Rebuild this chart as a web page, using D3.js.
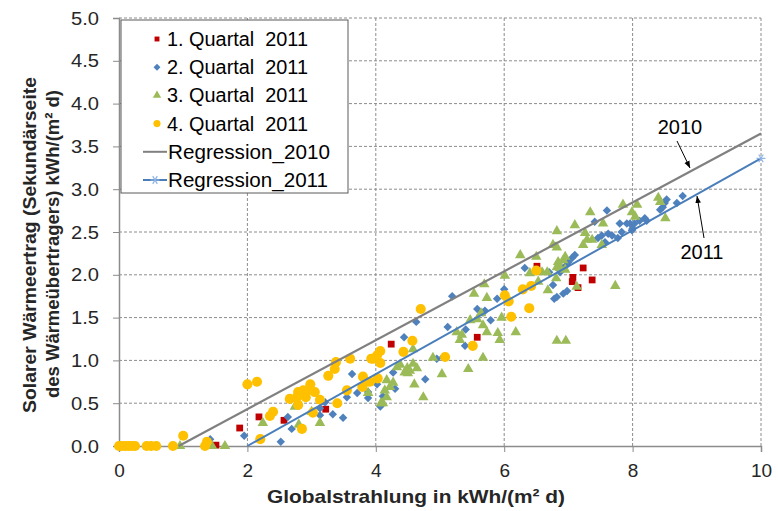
<!DOCTYPE html>
<html><head><meta charset="utf-8">
<script src="https://cdn.jsdelivr.net/npm/d3@7"></script>
<style>html,body{margin:0;padding:0;background:#fff;}svg{display:block;}</style>
</head><body>
<svg id="chart" width="778" height="511"></svg>
<script>
const q1 = [[1.88,0.21],[1.51,0.01],[2.18,0.34],[2.57,0.30],[3.22,0.43],[4.24,1.19],[5.58,1.27],[6.51,2.10],[7.23,2.08],[7.07,1.97],[7.06,1.92],[7.37,1.94],[7.15,1.85]];
const q2 = [[1.42,0.08],[1.95,0.12],[2.52,0.05],[2.63,0.34],[2.69,0.20],[3.13,0.36],[3.13,0.44],[3.21,0.51],[3.33,0.37],[3.49,0.33],[3.55,0.57],[3.63,0.84],[3.71,0.62],[3.88,0.56],[3.88,0.63],[4.02,0.72],[4.07,0.46],[4.11,0.58],[4.27,0.86],[4.30,0.67],[4.44,1.27],[4.63,1.45],[4.77,0.78],[4.95,1.02],[5.05,1.04],[5.12,1.39],[5.19,1.75],[5.39,1.17],[5.40,1.36],[5.58,1.60],[5.67,1.56],[5.70,1.58],[5.79,1.47],[5.89,1.72],[6.00,1.83],[6.32,2.08],[6.70,2.03],[6.76,1.88],[6.78,1.72],[6.79,2.34],[6.82,1.74],[6.87,2.03],[6.92,2.08],[6.92,1.78],[6.98,2.12],[6.98,1.81],[7.00,2.15],[7.06,2.20],[7.10,2.23],[7.41,2.62],[7.46,2.43],[7.52,2.46],[7.57,2.38],[7.60,2.75],[7.62,2.48],[7.68,2.46],[7.77,2.43],[7.80,2.60],[7.83,2.50],[7.91,2.60],[7.96,2.60],[7.99,2.52],[8.00,2.54],[8.03,2.60],[8.11,2.63],[8.19,2.66],[8.22,2.63],[8.43,2.76],[8.47,2.79],[8.50,2.84],[8.53,2.88],[8.69,2.84],[8.78,2.92]];
const q3 = [[0.95,0],[1.45,0],[1.65,0],[2.24,0.27],[2.74,0.46],[2.80,0.25],[3.00,0.40],[3.13,0.27],[3.88,0.62],[4.08,0.50],[4.11,0.50],[4.14,0.65],[4.17,0.57],[4.17,0.77],[4.22,0.69],[4.27,0.74],[4.33,0.92],[4.38,0.95],[4.45,0.86],[4.49,0.91],[4.50,0.85],[4.53,0.88],[4.58,0.96],[4.58,1.13],[4.60,0.72],[4.64,0.91],[4.74,0.57],[4.89,1.03],[5.03,0.84],[5.26,1.33],[5.31,1.24],[5.34,1.30],[5.44,0.90],[5.47,1.47],[5.53,1.78],[5.58,1.48],[5.64,1.55],[5.67,1.41],[5.67,1.03],[5.69,1.89],[5.73,1.73],[5.73,1.33],[5.90,1.32],[5.93,1.24],[5.96,1.50],[6.01,1.99],[6.18,1.33],[6.25,2.23],[6.40,2.02],[6.50,2.21],[6.53,1.92],[6.59,2.03],[6.67,2.03],[6.68,1.82],[6.76,2.35],[6.81,1.96],[6.82,2.51],[6.82,2.32],[6.84,2.15],[6.82,2.09],[6.82,1.23],[6.87,2.08],[6.92,2.17],[6.95,2.21],[6.95,2.06],[6.96,1.23],[7.10,2.58],[7.13,1.86],[7.23,2.35],[7.26,2.49],[7.29,2.41],[7.34,2.73],[7.37,2.41],[7.52,2.35],[7.54,2.60],[7.73,1.87],[7.85,2.82],[7.99,2.73],[8.04,2.68],[8.07,2.82],[8.40,2.90],[8.43,2.85],[8.51,2.66]];
const q4 = [[0,0],[0.05,0],[0.10,0],[0.15,0],[0.20,0],[0.25,0],[0.43,0],[0.50,0],[0.58,0],[0.84,0],[1.00,0.12],[1.34,0],[1.37,0.05],[2.00,0.72],[2.15,0.75],[2.20,0.08],[2.35,0.35],[2.40,0.40],[2.66,0.55],[2.77,0.57],[2.79,0.48],[2.79,0.63],[2.85,0.20],[2.87,0.65],[2.91,0.57],[2.94,0.65],[2.98,0.72],[3.02,0.39],[3.05,0.63],[3.13,0.54],[3.26,0.82],[3.36,0.90],[3.38,0.98],[3.40,0.50],[3.55,0.65],[3.60,1.02],[3.79,0.69],[3.80,0.81],[3.86,0.75],[3.91,0.75],[3.93,1.02],[3.96,1.02],[4.02,1.06],[4.03,0.79],[4.07,1.11],[4.07,0.97],[4.43,1.10],[4.57,1.23],[4.70,1.60],[5.08,1.04],[5.51,1.17],[6.01,1.76],[6.07,1.69],[6.11,1.51],[6.29,1.83],[6.39,1.61],[6.42,1.87],[6.50,2.05]];
const reg2010 = [[0.93,0],[10,3.65]];
const reg2011 = [[2.0,0],[10,3.36]];
const xTicks = [0,2,4,6,8,10];
const yTicks = [0,0.5,1.0,1.5,2.0,2.5,3.0,3.5,4.0,4.5,5.0];
const legendLabels = ["1. Quartal  2011","2. Quartal  2011","3. Quartal  2011","4. Quartal  2011","Regression_2010","Regression_2011"];
const xTitle = "Globalstrahlung in kWh/(m² d)";
const yTitle1 = "Solarer Wärmeertrag (Sekundärseite";
const yTitle2 = "des Wärmeübertragers) kWh/(m² d)";

const svg = d3.select("#chart");
const L = 119, R = 761, T = 18, B = 446;
const x = d3.scaleLinear().domain([0,10]).range([L,R]);
const y = d3.scaleLinear().domain([0,5]).range([B,T]);
const font = "'Liberation Sans', Arial, sans-serif";
const txt = "#262626";

// grid
const grid = svg.append("g");
grid.selectAll("line.h").data(yTicks.filter(d=>d>0)).join("line")
  .attr("x1",L).attr("x2",R).attr("y1",d=>y(d)).attr("y2",d=>y(d))
  .attr("stroke","#8c8c8c").attr("stroke-width",1).attr("stroke-dasharray","3,2");
grid.selectAll("line.v").data(xTicks.filter(d=>d>0)).join("line")
  .attr("y1",T).attr("y2",B).attr("x1",d=>x(d)).attr("x2",d=>x(d))
  .attr("stroke","#8c8c8c").attr("stroke-width",1).attr("stroke-dasharray","3,2");

// axes
const xAxis = svg.append("g").attr("transform",`translate(0,${B})`)
  .call(d3.axisBottom(x).tickValues(xTicks).tickFormat(d3.format("d")).tickSize(6).tickPadding(9));
const yAxis = svg.append("g").attr("transform",`translate(${L},0)`)
  .call(d3.axisLeft(y).tickValues(yTicks).tickFormat(d3.format(".1f")).tickSize(6).tickPadding(14));
[xAxis,yAxis].forEach(a=>{
  a.select(".domain").attr("stroke","#8c8c8c").attr("stroke-width",1.5);
  a.selectAll(".tick line").attr("stroke","#8c8c8c");
  a.selectAll("text").attr("font-family",font).attr("font-size",19).attr("fill",txt);
});
xAxis.selectAll("text").attr("dy","0.85em");
yAxis.selectAll("text").attr("textLength",28).attr("lengthAdjust","spacingAndGlyphs");

// points
const colors = ["#C00000","#4F81BD","#9BBB59","#FFC000"];
const sq = d3.symbol().type(d3.symbolSquare).size(46)();
const dia = d3.symbol().type(d3.symbolSquare).size(36)();
const tri = d3.symbol().type(d3.symbolTriangle).size(48)();
const circ = d3.symbol().type(d3.symbolCircle).size(80)();
const pts = svg.append("g");
function drawSeries(data, path, color, rot){
  pts.append("g").selectAll("path").data(data).join("path")
    .attr("d",path).attr("fill",color)
    .attr("transform",d=>`translate(${x(d[0])},${y(d[1])})${rot?" rotate(45)":""}`);
}
drawSeries(q1, sq, colors[0], false);
drawSeries(q2, dia, colors[1], true);
drawSeries(q3, tri, colors[2], false);
drawSeries(q4, circ, colors[3], false);

// regression lines
const line = d3.line().x(d=>x(d[0])).y(d=>y(d[1]));
svg.append("path").datum(reg2010).attr("d",line).attr("stroke","#808080").attr("stroke-width",2.2).attr("fill","none");
svg.append("path").datum(reg2011).attr("d",line).attr("stroke","#4A7EBB").attr("stroke-width",2).attr("fill","none");
function asterisk(g, cx, cy){
  const s=4.5;
  g.append("g").attr("transform",`translate(${cx},${cy})`).selectAll("line").data([0,60,120]).join("line")
    .attr("x1",d=>-s*Math.cos(d*Math.PI/180)).attr("y1",d=>-s*Math.sin(d*Math.PI/180))
    .attr("x2",d=>s*Math.cos(d*Math.PI/180)).attr("y2",d=>s*Math.sin(d*Math.PI/180))
    .attr("stroke","#8DB4E2").attr("stroke-width",1.2);
}
asterisk(svg, x(reg2011[1][0]), y(reg2011[1][1]));

// annotations
const defs = svg.append("defs");
defs.append("marker").attr("id","ah").attr("viewBox","0 0 10 10").attr("refX",10).attr("refY",5)
  .attr("markerWidth",7).attr("markerHeight",7).attr("orient","auto")
  .append("path").attr("d","M0,1 L10,5 L0,9 Z").attr("fill","#000");
svg.append("line").attr("x1",677).attr("y1",141).attr("x2",690).attr("y2",168)
  .attr("stroke","#000").attr("stroke-width",1).attr("marker-end","url(#ah)");
svg.append("line").attr("x1",704).attr("y1",238).attr("x2",697).attr("y2",196)
  .attr("stroke","#000").attr("stroke-width",1).attr("marker-end","url(#ah)");
svg.append("text").attr("x",680).attr("y",134).attr("text-anchor","middle")
  .attr("font-family",font).attr("font-size",20).attr("fill","#000").text("2010");
svg.append("text").attr("x",702).attr("y",259).attr("text-anchor","middle")
  .attr("font-family",font).attr("font-size",20).attr("fill","#000").text("2011");

// legend
const lg = svg.append("g");
lg.append("rect").attr("x",121).attr("y",20).attr("width",227).attr("height",173)
  .attr("fill","#fff").attr("stroke","#5a5a5a").attr("stroke-width",1);
const rowY = i => 39 + i*28.2;
for(let i=0;i<4;i++){
  lg.append("path").attr("d",d3.symbol().type(i===3?d3.symbolCircle:(i===2?d3.symbolTriangle:d3.symbolSquare)).size(i===3?40:(i===2?30:24))())
    .attr("fill",colors[i]).attr("transform",`translate(157,${rowY(i)})${i===1?" rotate(45)":""}`);
}
lg.append("line").attr("x1",143).attr("x2",167).attr("y1",rowY(4)).attr("y2",rowY(4)).attr("stroke","#808080").attr("stroke-width",2);
lg.append("line").attr("x1",143).attr("x2",167).attr("y1",rowY(5)).attr("y2",rowY(5)).attr("stroke","#4A7EBB").attr("stroke-width",2);
asterisk(lg, 155, rowY(5));
const legLen = [141,141,141,141,162,160];
lg.selectAll("text").data(legendLabels).join("text")
  .attr("x",(d,i)=>i<4?167:168).attr("y",(d,i)=>rowY(i)+7)
  .attr("font-family",font).attr("font-size",20).attr("fill","#000")
  .attr("xml:space","preserve").style("white-space","pre")
  .attr("textLength",(d,i)=>legLen[i]).attr("lengthAdjust","spacingAndGlyphs").text(d=>d);

// titles
svg.append("text").attr("x",416).attr("y",503).attr("text-anchor","middle")
  .attr("font-family",font).attr("font-size",19).attr("font-weight","bold").attr("fill",txt)
  .attr("textLength",298).attr("lengthAdjust","spacingAndGlyphs").text(xTitle);
svg.append("text").attr("transform","translate(36,245) rotate(-90)").attr("text-anchor","middle")
  .attr("font-family",font).attr("font-size",19).attr("font-weight","bold").attr("fill",txt)
  .attr("textLength",336).attr("lengthAdjust","spacingAndGlyphs").text(yTitle1);
svg.append("text").attr("transform","translate(59,244) rotate(-90)").attr("text-anchor","middle")
  .attr("font-family",font).attr("font-size",19).attr("font-weight","bold").attr("fill",txt)
  .attr("textLength",308).attr("lengthAdjust","spacingAndGlyphs").text(yTitle2);
</script>
</body></html>
